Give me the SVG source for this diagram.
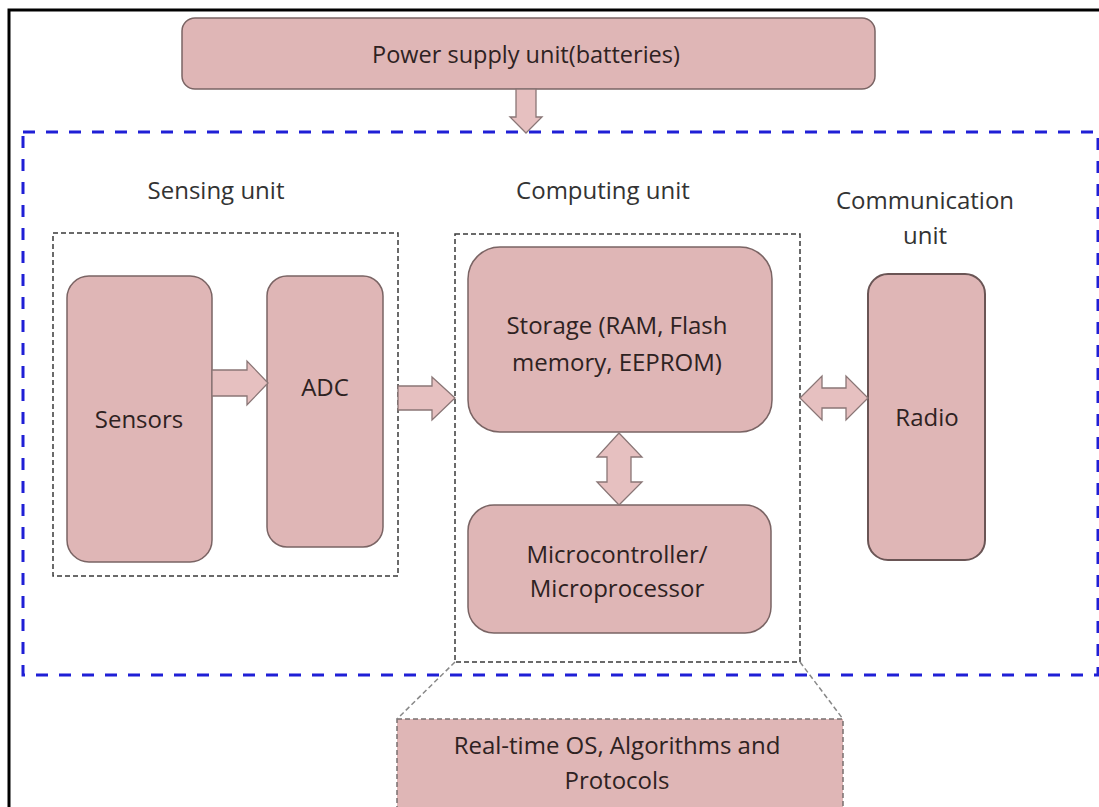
<svg xmlns="http://www.w3.org/2000/svg" width="1099" height="807" viewBox="0 0 1099 807">
<style>
.box{fill:#dfb6b6;stroke:#7a6464;stroke-width:1.5}
.arrow{fill:#e6c0c0;stroke:#8a7676;stroke-width:1.3}
.lbl{font-family:"Open Sans","Liberation Sans",sans-serif;font-size:24px;fill:#333;text-anchor:middle}
.txt{font-family:"Open Sans","Liberation Sans",sans-serif;font-size:24px;fill:#2e2222;text-anchor:middle}
.grp{fill:none;stroke:#3a3a3a;stroke-width:1.5;stroke-dasharray:5 3}
</style>
<rect width="1099" height="807" fill="#ffffff"/>
<g id="frame">
<path d="M9,807 V10 H1099" fill="none" stroke="#000" stroke-width="3"/>
</g>
<g id="sensor-node-boundary">
<rect x="23" y="132" width="1075" height="543" fill="none" stroke="#1f1fd6" stroke-width="3" stroke-dasharray="12 11"/>
</g>
<g id="power">
<rect class="box" x="182" y="18" width="693" height="71" rx="13"/>
<text class="txt" x="526" y="63" style="font-size:23.5px">Power supply unit(batteries)</text>
</g>
<g id="sensing-unit">
<text class="lbl" x="216" y="199">Sensing unit</text>
<rect class="grp" x="53" y="233" width="345" height="343"/>
</g>
<g id="sensors">
<rect class="box" x="67" y="276" width="145" height="286" rx="22"/>
<text class="txt" x="139" y="428">Sensors</text>
</g>
<g id="adc">
<rect class="box" x="267" y="276" width="116" height="271" rx="20"/>
<text class="txt" x="325" y="396">ADC</text>
</g>
<g id="computing-unit">
<text class="lbl" x="603" y="199">Computing unit</text>
<rect class="grp" x="455" y="234" width="345" height="428"/>
</g>
<g id="storage">
<rect class="box" x="468" y="247" width="304" height="185" rx="32"/>
<text class="txt" x="617" y="334">Storage (RAM, Flash</text>
<text class="txt" x="617" y="371">memory, EEPROM)</text>
</g>
<g id="microcontroller">
<rect class="box" x="468" y="505" width="303" height="128" rx="26"/>
<text class="txt" x="617" y="563">Microcontroller/</text>
<text class="txt" x="617" y="597">Microprocessor</text>
</g>
<g id="communication-unit">
<text class="lbl" x="925" y="209">Communication</text>
<text class="lbl" x="925" y="244">unit</text>
</g>
<g id="radio">
<rect class="box" x="868" y="274" width="117" height="286" rx="20" style="stroke:#6a5555;stroke-width:2"/>
<text class="txt" x="927" y="426">Radio</text>
</g>
<g id="software">
<rect x="397" y="719" width="446" height="100" fill="#dfb6b6" stroke="#7a7070" stroke-width="1.5" stroke-dasharray="5 3"/>
<text class="txt" x="617" y="754">Real-time OS, Algorithms and</text>
<text class="txt" x="617" y="789">Protocols</text>
</g>
<g id="connectors">
<polygon class="arrow" points="516,89 536,89 536,117 542,117 526,133 510,117 516,117"/>
<polygon class="arrow" points="212,370 247,370 247,361 268,383 247,405 247,396 212,396"/>
<polygon class="arrow" points="398,386 432,386 432,377 455,398 432,420 432,410 398,410"/>
<polygon class="arrow" points="800,398 822,376 822,388 846,388 846,376 868,398 846,420 846,408 822,408 822,420"/>
<polygon class="arrow" points="619,433 642,457 631,457 631,482 642,482 619,505 597,482 607,482 607,457 597,457"/>
<line x1="455" y1="662" x2="397" y2="719" stroke="#888" stroke-width="1.5" stroke-dasharray="5 3"/>
<line x1="800" y1="662" x2="843" y2="719" stroke="#888" stroke-width="1.5" stroke-dasharray="5 3"/>
</g>
</svg>
